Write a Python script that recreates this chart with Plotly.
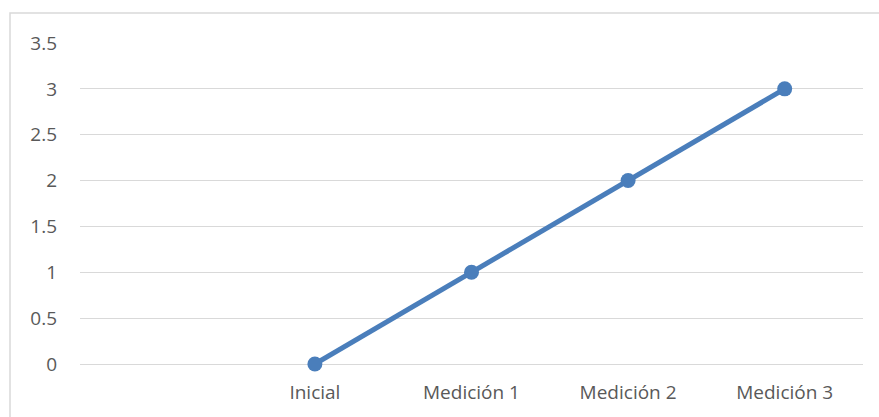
import plotly.graph_objects as go

categories = ["Inicial", "Medición 1", "Medición 2", "Medición 3"]
values = [0, 1, 2, 3]
y_ticks = [0, 0.5, 1, 1.5, 2, 2.5, 3, 3.5]
y_tick_labels = ["0", "0.5", "1", "1.5", "2", "2.5", "3", "3.5"]

W, H = 879, 417
L, R, T, B = 80, 16, 43, 53
pw, ph = W - L - R, H - T - B

fig = go.Figure()
fig.add_trace(go.Scatter(
    x=categories, y=values, mode="lines+markers",
    line=dict(color="#4A7EBB", width=5),
    marker=dict(color="#4A7EBB", size=15),
    showlegend=False, cliponaxis=False,
))

fig.update_layout(
    width=W, height=H,
    margin=dict(l=L, r=R, t=T, b=B),
    paper_bgcolor="white", plot_bgcolor="white",
    font=dict(family="Open Sans", size=19, color="#595959"),
    xaxis=dict(
        type="category", categoryorder="array",
        categoryarray=[" "] + categories,
        range=[-0.5, 4.5], showgrid=False, zeroline=False,
        showline=False, ticks="", ticklabelstandoff=15,
    ),
    yaxis=dict(
        range=[0, 3.5], tickvals=y_ticks, ticktext=y_tick_labels,
        showgrid=True, gridcolor="#D9D9D9", gridwidth=1.3,
        zeroline=True, zerolinecolor="#D9D9D9", zerolinewidth=1.3,
        showline=False, ticks="", ticklabelstandoff=22,
    ),
    shapes=[dict(
        type="rect", xref="paper", yref="paper",
        x0=(10 - L) / pw, x1=(W + 20 - L) / pw,
        y0=(H - B - (H + 20)) / ph, y1=(H - B - 13) / ph,
        line=dict(color="#D9D9D9", width=1.5), fillcolor="rgba(0,0,0,0)",
        layer="below",
    )],
)

fig.write_html("out.html", config={"displayModeBar": False},
               post_script="document.body.style.margin='0';document.body.style.overflow='hidden';")
